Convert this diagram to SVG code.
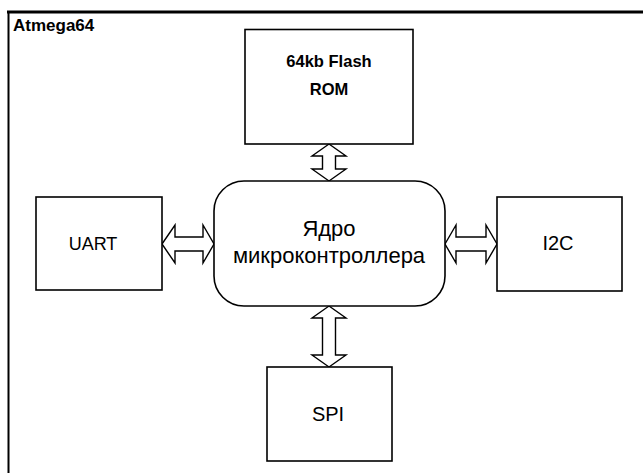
<svg xmlns="http://www.w3.org/2000/svg" width="643" height="473" viewBox="0 0 643 473">
  <style>
    .box { fill: #ffffff; stroke: #000000; stroke-width: 1.6; }
    .lbl { font-family: "Liberation Sans", Arial, sans-serif; font-size: 18px; fill: #000000; text-anchor: middle; }
    .bold { font-weight: bold; }
    .bus { fill: #ffffff; stroke: #000000; stroke-width: 1.4; stroke-linejoin: miter; }
    .frame { fill: none; stroke: #000000; }
  </style>
  <rect x="0" y="0" width="643" height="473" fill="#ffffff"/>

  <!-- chip boundary (open to the right and bottom) -->
  <g id="chip">
    <line class="frame" x1="7" y1="12" x2="643" y2="12" stroke-width="3"/>
    <line class="frame" x1="8.5" y1="11" x2="8.5" y2="473" stroke-width="2"/>
    <text x="13" y="31" class="lbl bold" style="text-anchor:start;font-size:17px">Atmega64</text>
  </g>

  <!-- bus connectors (double-headed block arrows) -->
  <g id="connectors">
    <!-- core <-> flash -->
    <polygon class="bus" points="329,144 346,156 335.5,156 335.5,169 346,169 329,181 312,169 322.5,169 322.5,156 312,156"/>
    <!-- core <-> SPI -->
    <polygon class="bus" points="329,306 346,318 335.5,318 335.5,355 346,355 329,367 312,355 322.5,355 322.5,318 312,318"/>
    <!-- UART <-> core -->
    <polygon class="bus" points="162,244 175,225 175,237 203,237 203,225 214,244 203,263 203,251 175,251 175,263"/>
    <!-- core <-> I2C -->
    <polygon class="bus" points="445,244 456,225 456,237 486,237 486,225 497,244 486,263 486,251 456,251 456,263"/>
  </g>

  <g id="flash">
    <rect class="box" x="245" y="29.5" width="168" height="114.5"/>
    <text x="329" y="67" class="lbl bold" style="font-size:16.5px">64kb Flash</text>
    <text x="329" y="95" class="lbl bold" style="font-size:16.5px">ROM</text>
  </g>

  <g id="core">
    <rect class="box" x="214" y="181" width="231" height="125" rx="30" ry="30"/>
    <text x="329" y="236" class="lbl" style="font-size:22px">Ядро</text>
    <text x="329" y="263" class="lbl" style="font-size:22px">микроконтроллера</text>
  </g>

  <g id="uart">
    <rect class="box" x="36" y="197" width="126" height="93"/>
    <text x="93" y="250" class="lbl">UART</text>
  </g>

  <g id="i2c">
    <rect class="box" x="497" y="197" width="125" height="94"/>
    <text x="558" y="250" class="lbl" style="font-size:20px">I2C</text>
  </g>

  <g id="spi">
    <rect class="box" x="267" y="367" width="125" height="94"/>
    <text x="328" y="421" class="lbl" style="font-size:20px">SPI</text>
  </g>
</svg>
